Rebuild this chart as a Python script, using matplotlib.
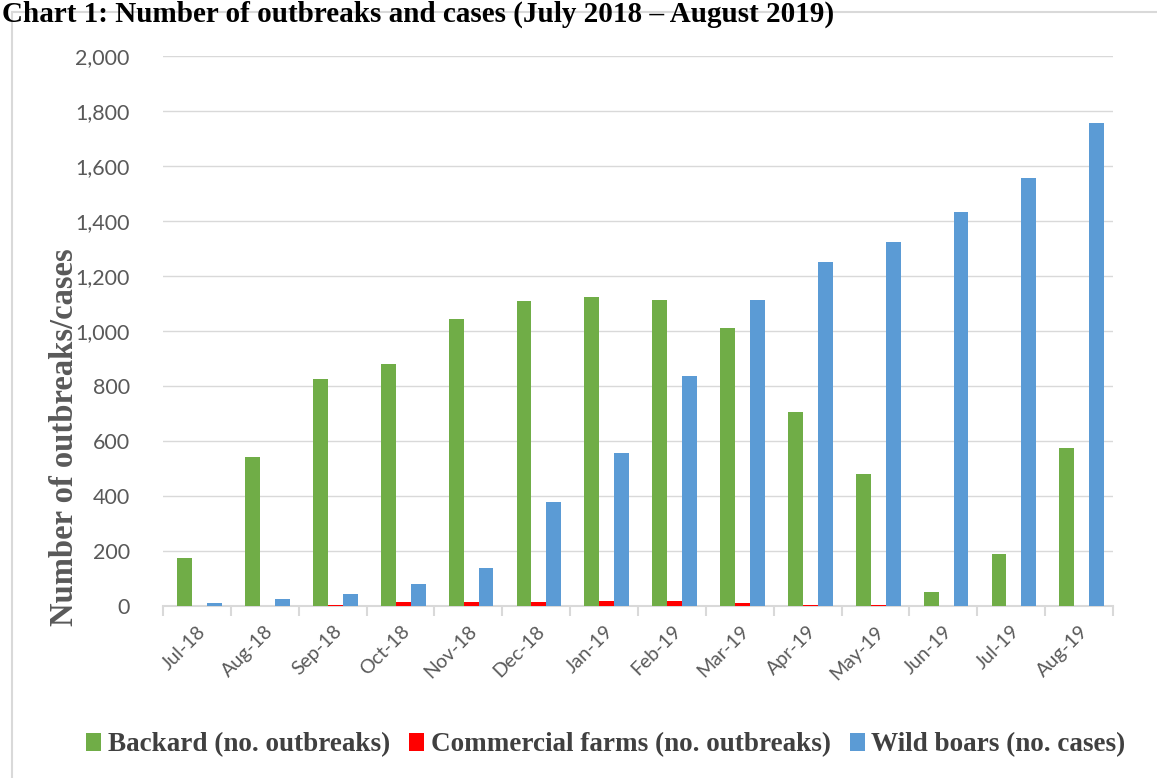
import matplotlib
matplotlib.use("Agg")
import matplotlib.pyplot as plt
import numpy as np
from matplotlib.patches import Rectangle
from matplotlib.ticker import FuncFormatter

months = ["Jul-18", "Aug-18", "Sep-18", "Oct-18", "Nov-18", "Dec-18", "Jan-19",
          "Feb-19", "Mar-19", "Apr-19", "May-19", "Jun-19", "Jul-19", "Aug-19"]
backyard = [175, 542, 826, 881, 1044, 1109, 1124, 1113, 1011, 705, 481, 51, 189, 576]
commercial = [0, 0, 5, 13, 13, 13, 18, 18, 12, 5, 5, 0, 0, 0]
wild_boars = [10, 27, 42, 80, 140, 379, 558, 836, 1111, 1250, 1325, 1432, 1555, 1755]

series_names = ["Backard (no. outbreaks)", "Commercial farms (no. outbreaks)", "Wild boars (no. cases)"]
colors = ["#70AD47", "#FF0000", "#5B9BD5"]

W, H = 1157, 778
fig = plt.figure(figsize=(W / 100, H / 100), dpi=100)
ax = fig.add_axes([163 / W, 1 - 606 / H, (1113 - 163) / W, (606 - 56) / H])

x = np.arange(len(months))
bw = 0.22
for i, (vals, c, name) in enumerate(zip([backyard, commercial, wild_boars], colors, series_names)):
    ax.bar(x + (i - 1) * bw + 0.04, vals, width=bw, color=c, label=name, zorder=3)

ax.set_xlim(-0.5, len(months) - 0.5)
ax.set_ylim(0, 2000)
ax.set_yticks(np.arange(0, 2001, 200))
ax.yaxis.set_major_formatter(FuncFormatter(lambda v, p: f"{int(v):,}"))
ax.grid(axis="y", color="#D9D9D9", linewidth=1, zorder=0)
for s in ["top", "right", "left"]:
    ax.spines[s].set_visible(False)
ax.spines["bottom"].set_color("#D9D9D9")
ax.spines["bottom"].set_linewidth(1.5)
ax.tick_params(axis="y", length=0, pad=24, labelsize=15.5, labelcolor="#595959")
ax.set_xticks(x)
ax.set_xticklabels(months, rotation=45, ha="right", rotation_mode="anchor",
                   fontsize=14, color="#595959")
ax.tick_params(axis="x", length=0, pad=12)
ax.set_xticks(np.arange(-0.5, len(months)), minor=True)
ax.tick_params(axis="x", which="minor", length=7, color="#D9D9D9", width=1.5)
for lbl in ax.get_yticklabels() + ax.get_xticklabels():
    lbl.set_fontfamily("Lato")

fig.text(65 / W, 1 - 437 / H, "Number of outbreaks/cases", rotation=90, ha="center", va="center",
         fontsize=23.5, fontweight="bold", family="Liberation Serif", color="#595959")

fig.text(2 / W, 1 - 1 / H, "Chart 1: Number of outbreaks and cases (July 2018 \u2013 August 2019)",
         ha="left", va="top", fontsize=21, fontweight="bold", family="Liberation Serif", color="black")

# outer chart frame
fig.patches.append(Rectangle((12 / W, -0.01), 1.1, 1 - 12 / H + 0.01, transform=fig.transFigure,
                             fill=False, edgecolor="#D9D9D9", linewidth=1.5, zorder=0))

leg = fig.legend(loc="center", bbox_to_anchor=(606 / W, 1 - 745 / H), ncol=3, frameon=False,
                 handlelength=0.55, handleheight=0.6, handletextpad=0.25, columnspacing=0.7,
                 prop={"family": "Liberation Serif", "weight": "bold", "size": 19.5})
for t in leg.get_texts():
    t.set_color("#404040")

fig.savefig("out.png", dpi=100)
